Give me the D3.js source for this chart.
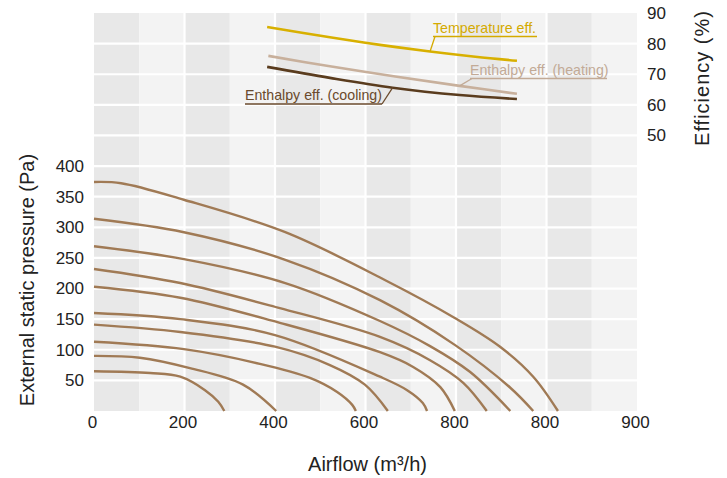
<!DOCTYPE html>
<html><head><meta charset="utf-8">
<script src="https://cdn.jsdelivr.net/npm/d3@7"></script>
<style>
html,body{margin:0;padding:0;background:#fff;}
svg{display:block;font-family:"Liberation Sans",Arial,sans-serif;}
</style></head>
<body><svg id="c" width="727" height="478"></svg>
<script>
// ---- data ----
const xTickValues = [0,150,300,450,600,750,900];
const xTickLabels = ["0","200","400","600","800","800","900"];
const yTickValues = [50,100,150,200,250,300,350,400];
const yTickLabels = ["50","100","150","200","250","300","350","400"];
const effTickValues = [50,60,70,80,90];
const effTickLabels = ["50","60","70","80","90"];

// pressure curves: [airflow, pressure]
const curve1 = [[0,374],[45,372],[149,345],[317,292],[482,214],[598,152],[673,105],[728,56],[769,0]];
const curve2 = [[0,314],[149,292],[317,247],[474,181],[598,108],[690,38],[728,0]];
const curve3 = [[0,269],[149,248],[317,209],[474,147],[557,106],[623,64],[690,0]];
const curve4 = [[0,232],[143,209],[308,168],[474,121],[557,83],[612,46],[651,0]];
const curve5 = [[0,203],[143,185],[308,144],[474,96],[529,72],[574,39],[598,0]];
const curve6 = [[0,160],[143,150],[300,124],[474,56],[519,34],[545,13],[552,0]];
const curve7 = [[0,141],[143,129],[300,105],[391,75],[449,43],[487,0]];
const curve8 = [[0,113],[149,101],[275,77],[358,54],[403,31],[428,10],[434,0]];
const curve9 = [[0,90],[76,87],[159,70],[247,43],[302,0]];
const curve10 = [[0,65],[93,62],[143,56],[184,34],[206,15],[216,0]];
const pressureCurves = [curve1,curve2,curve3,curve4,curve5,curve6,curve7,curve8,curve9,curve10];

// efficiency curves: [airflow, efficiency %]
const tempEff = [[287,85.4],[391,82.1],[474,79.6],[557,77.4],[632,75.7],[701,74.4]];
const enthHeating = [[289,76.0],[391,72.6],[502,69.2],[606,66.2],[701,63.6]];
const enthCooling = [[287,72.4],[391,68.8],[495,65.6],[606,63.2],[701,61.9]];
const effSeriesNames = ["Temperature eff.","Enthalpy eff. (heating)","Enthalpy eff. (cooling)"];

// ---- drawing ----
const svg = d3.select("#c");
const L=94,R=637,T=13,B=411;
const x = d3.scaleLinear().domain([0,900]).range([L,R]);
const y = d3.scaleLinear().domain([0,650]).range([B,T]);
const yEff = d3.scaleLinear().domain([-40,90]).range([B,T]);

// background bands
const bg = svg.append("g");
for (let i=0;i<6;i++){
  const x0 = i*150;
  bg.append("rect").attr("x",x(x0)).attr("y",T).attr("width",x(x0+75)-x(x0)).attr("height",B-T).attr("fill","#e8e8e8");
  bg.append("rect").attr("x",x(x0+75)).attr("y",T).attr("width",x(x0+150)-x(x0+75)).attr("height",B-T).attr("fill","#f3f3f3");
}
// white grid lines
const rows = d3.range(50,650,50);
bg.selectAll("line.h").data(rows).join("line")
  .attr("x1",L).attr("x2",R).attr("y1",d=>y(d)).attr("y2",d=>y(d))
  .attr("stroke","#fff").attr("stroke-width",2.2);
bg.selectAll("line.v").data(xTickValues.slice(1,-1)).join("line")
  .attr("y1",T).attr("y2",B).attr("x1",d=>x(d)).attr("x2",d=>x(d))
  .attr("stroke","#fff").attr("stroke-width",2.2);

// axes
const axX = svg.append("g").attr("transform",`translate(0,${B})`)
  .call(d3.axisBottom(x).tickValues(xTickValues).tickFormat((d,i)=>xTickLabels[i]).tickSize(0).tickPadding(5));
const axY = svg.append("g").attr("transform",`translate(${L},0)`)
  .call(d3.axisLeft(y).tickValues(yTickValues).tickFormat((d,i)=>yTickLabels[i]).tickSize(0).tickPadding(10));
const axE = svg.append("g").attr("transform",`translate(${R},0)`)
  .call(d3.axisRight(yEff).tickValues(effTickValues).tickFormat((d,i)=>effTickLabels[i]).tickSize(0).tickPadding(10));
[axX,axY,axE].forEach(a=>{
  a.select(".domain").remove();
  a.selectAll("text").attr("font-size",17).attr("fill","#222").attr("font-family",'"Liberation Sans",Arial,sans-serif');
});
axX.selectAll(".tick text").attr("dx",-2);

// axis titles
svg.append("text").attr("x",(L+R)/2+2).attr("y",471).attr("text-anchor","middle")
  .attr("font-size",20).attr("fill","#222").text("Airflow (m³/h)");
svg.append("text").attr("transform","translate(34,280) rotate(-90)").attr("text-anchor","middle")
  .attr("font-size",20).attr("fill","#222").text("External static pressure (Pa)");
svg.append("text").attr("transform","translate(709,78) rotate(-90)").attr("text-anchor","middle")
  .attr("font-size",20).attr("fill","#222").attr("letter-spacing",1).text("Efficiency (%)");

// pressure curves
const line = d3.line().x(d=>x(d[0])).y(d=>y(d[1])).curve(d3.curveCatmullRom.alpha(0.5));
svg.append("g").selectAll("path").data(pressureCurves).join("path")
  .attr("d",line).attr("fill","none").attr("stroke","#a07a55").attr("stroke-width",2.4);

// efficiency curves
const effLine = d3.line().x(d=>x(d[0])).y(d=>yEff(d[1])).curve(d3.curveCatmullRom.alpha(0.5));
const effColors = ["#d8b000","#c8b09c","#5a3c1e"];
const effTextColors = ["#d4aa00","#c2aa96","#6a4a2c"];
const effData = [tempEff,enthHeating,enthCooling];
svg.append("g").selectAll("path").data(effData).join("path")
  .attr("d",effLine).attr("fill","none").attr("stroke",(d,i)=>effColors[i]).attr("stroke-width",2.6);

function effAt(series, ax){
  for (let i=0;i<series.length-1;i++){
    const a=series[i], b=series[i+1];
    if (ax>=a[0] && ax<=b[0]) return a[1]+(b[1]-a[1])*(ax-a[0])/(b[0]-a[0]);
  }
  return series[series.length-1][1];
}
const labelLayout = [
  {tx:433, ty:33, ux0:433, ux1:537, uy:36.5, lx:435, ax:557},
  {tx:470, ty:75, ux0:470, ux1:607, uy:78.5, lx:472, ax:606},
  {tx:245, ty:100, ux0:245, ux1:382, uy:104, lx:382, ax:495}
];
const lab = svg.append("g");
labelLayout.forEach((p,i)=>{
  lab.append("text").attr("x",p.tx).attr("y",p.ty).attr("font-size",14.2)
    .attr("fill",effTextColors[i]).text(effSeriesNames[i]);
  lab.append("line").attr("x1",p.ux0).attr("x2",p.ux1).attr("y1",p.uy).attr("y2",p.uy)
    .attr("stroke",effTextColors[i]).attr("stroke-width",1.3);
  const ay = yEff(effAt(effData[i],p.ax));
  lab.append("line").attr("x1",p.lx).attr("y1",p.uy).attr("x2",x(p.ax)).attr("y2",ay)
    .attr("stroke",effTextColors[i]).attr("stroke-width",1.3);
});
</script></body></html>
